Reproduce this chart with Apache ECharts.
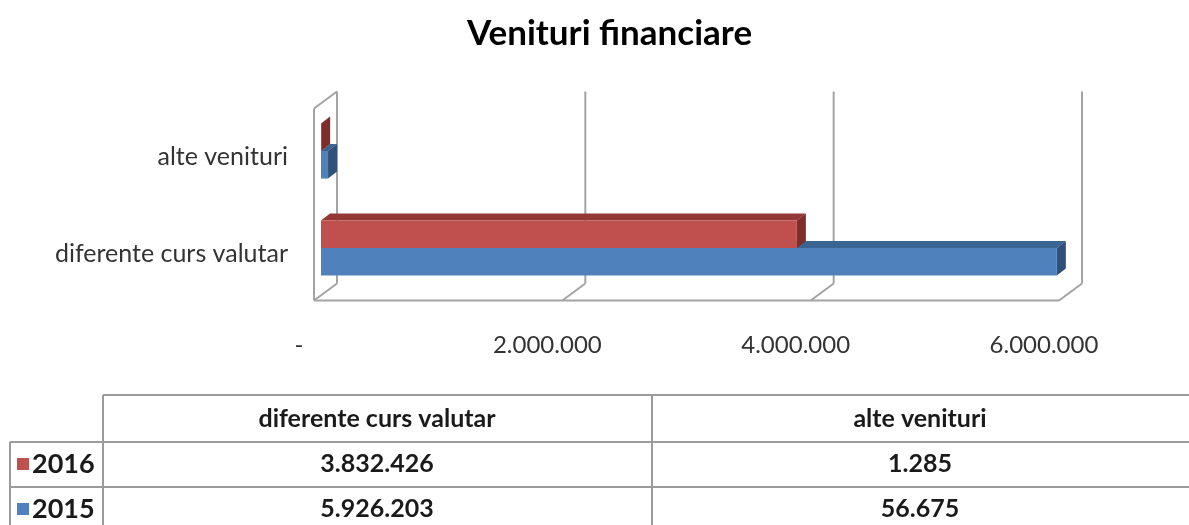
<!DOCTYPE html>
<html>
<head>
<meta charset="utf-8">
<script src="https://cdn.jsdelivr.net/npm/echarts@6/dist/echarts.min.js"></script>
<style>
html,body{margin:0;padding:0;background:#fff;}
#chart{width:1189px;height:525px;}
</style>
</head>
<body>
<div id="chart"></div>
<script>
var categories = ['diferente curs valutar', 'alte venituri'];
var years = ['2016', '2015'];
var values2016 = [3832426, 1285];
var values2015 = [5926203, 56675];
var tickValues = [0, 2000000, 4000000, 6000000];

var FONT = 'Lato, "Open Sans", sans-serif';
var GRID_COLOR = '#a3a3a3';

function fmt(n) {
	if (n === 0) return '-';
	return String(n).replace(/\B(?=(\d{3})+(?!\d))/g, '.');
}

// 3d looking bar: slot 0 sits below the category center, slot 1 above
function barRender(slot, front, top, side) {
	return function (params, api) {
		var val = api.value(0), cat = api.value(1);
		var p0 = api.coord([0, cat]);
		var p1 = api.coord([val, cat]);
		var band = api.size([0, 1])[1];
		var h = band * 0.284;
		var dx = 9, dy = 7;
		var x0 = p0[0], x1 = p1[0];
		var y0 = slot === 0 ? p0[1] : p0[1] - h;
		return {
			type: 'group',
			children: [
				{type: 'polygon', shape: {points: [[x0, y0], [x1, y0], [x1 + dx, y0 - dy], [x0 + dx, y0 - dy]]}, style: {fill: top}},
				{type: 'polygon', shape: {points: [[x1, y0], [x1 + dx, y0 - dy], [x1 + dx, y0 + h - dy], [x1, y0 + h]]}, style: {fill: side}},
				{type: 'rect', shape: {x: x0, y: y0, width: x1 - x0, height: h}, style: {fill: front}}
			]
		};
	};
}

// walls and floor of the 3d box, drawn per tick
function frameRender(params, api) {
	var cs = params.coordSys;
	var topY = cs.y, botY = cs.y + cs.height;
	var x = api.coord([api.value(0), 0])[0];
	var st = {stroke: GRID_COLOR, lineWidth: 2, fill: null};
	var kids = [
		{type: 'line', shape: {x1: x + 16, y1: topY - 11, x2: x + 16, y2: botY - 13}, style: st},
		{type: 'line', shape: {x1: x + 16, y1: botY - 13, x2: x - 7, y2: botY + 4}, style: st}
	];
	var i = params.dataIndex;
	if (i === 0) {
		kids.push({type: 'line', shape: {x1: x - 7, y1: topY + 6, x2: x - 7, y2: botY + 4}, style: st});
		kids.push({type: 'line', shape: {x1: x - 7, y1: topY + 6, x2: x + 16, y2: topY - 11}, style: st});
	} else {
		var xp = api.coord([tickValues[i - 1], 0])[0];
		kids.push({type: 'line', shape: {x1: xp - 7, y1: botY + 4, x2: x - 7, y2: botY + 4}, style: st});
	}
	return {type: 'group', children: kids};
}

// data table under the chart
function buildTable() {
	var ls = {stroke: '#9b9b9b', lineWidth: 2};
	var el = [];
	function line(x1, y1, x2, y2) {
		el.push({type: 'line', shape: {x1: x1, y1: y1, x2: x2, y2: y2}, style: ls, z: 10});
	}
	function text(t, x, y, align, font) {
		el.push({type: 'text', x: x, y: y, z: 10, style: {text: t, align: align || 'center', verticalAlign: 'middle',
			font: font || ('bold 25px ' + FONT), fill: '#1a1a1a'}});
	}
	line(103, 395, 1189, 395);
	line(10, 442, 1189, 442);
	line(10, 487, 1189, 487);
	line(10, 442, 10, 525);
	line(103, 395, 103, 525);
	line(652, 395, 652, 525);

	var colX = [377, 920];
	var rowY = [464, 509];
	var rows = [values2016, values2015];
	var cols = ['#c0504d', '#4f81bd'];
	text(categories[0], colX[0], 419);
	text(categories[1], colX[1], 419);
	for (var r = 0; r < 2; r++) {
		el.push({type: 'rect', shape: {x: 17, y: rowY[r] - 6, width: 12, height: 12}, style: {fill: cols[r]}, z: 10});
		text(years[r], 32, rowY[r], 'left', 'bold 27px ' + FONT);
		text(fmt(rows[r][0]), colX[0], rowY[r]);
		text(fmt(rows[r][1]), colX[1], rowY[r]);
	}
	return el;
}

var chart = echarts.init(document.getElementById('chart'));
var option = {
	backgroundColor: '#fff',
	animation: false,
	title: {
		text: 'Venituri financiare',
		left: 462,
		top: 11,
		textStyle: {fontFamily: FONT, fontSize: 35, fontWeight: 'bold', color: '#000'}
	},
	grid: {left: 321, width: 745, top: 102.5, height: 194},
	xAxis: {
		type: 'value',
		min: 0,
		max: 6000000,
		interval: 2000000,
		axisLine: {show: false},
		axisTick: {show: false},
		splitLine: {show: false},
		axisLabel: {
			margin: 37,
			fontFamily: FONT,
			fontSize: 24,
			color: '#333',
			padding: [0, 44, 0, 0],
			formatter: fmt
		}
	},
	yAxis: {
		type: 'category',
		data: categories,
		axisLine: {show: false},
		axisTick: {show: false},
		axisLabel: {margin: 33, fontFamily: FONT, fontSize: 25, color: '#333', verticalAlign: 'top', lineHeight: 12}
	},
	series: [
		{
			type: 'custom',
			name: 'frame',
			z: 1,
			silent: true,
			renderItem: frameRender,
			encode: {x: 0},
			data: tickValues.map(function (v) { return [v, 0]; })
		},
		{
			type: 'custom',
			name: years[1],
			z: 2,
			renderItem: barRender(0, '#4f81bd', '#3b6591', '#2f5078'),
			encode: {x: 0, y: 1},
			data: values2015.map(function (v, i) { return [v, i]; })
		},
		{
			type: 'custom',
			name: years[0],
			z: 3,
			renderItem: barRender(1, '#c0504d', '#943836', '#7f2d2b'),
			encode: {x: 0, y: 1},
			data: values2016.map(function (v, i) { return [v, i]; })
		}
	],
	graphic: buildTable()
};
chart.setOption(option);
window.addEventListener('resize', chart.resize);
</script>
</body>
</html>
